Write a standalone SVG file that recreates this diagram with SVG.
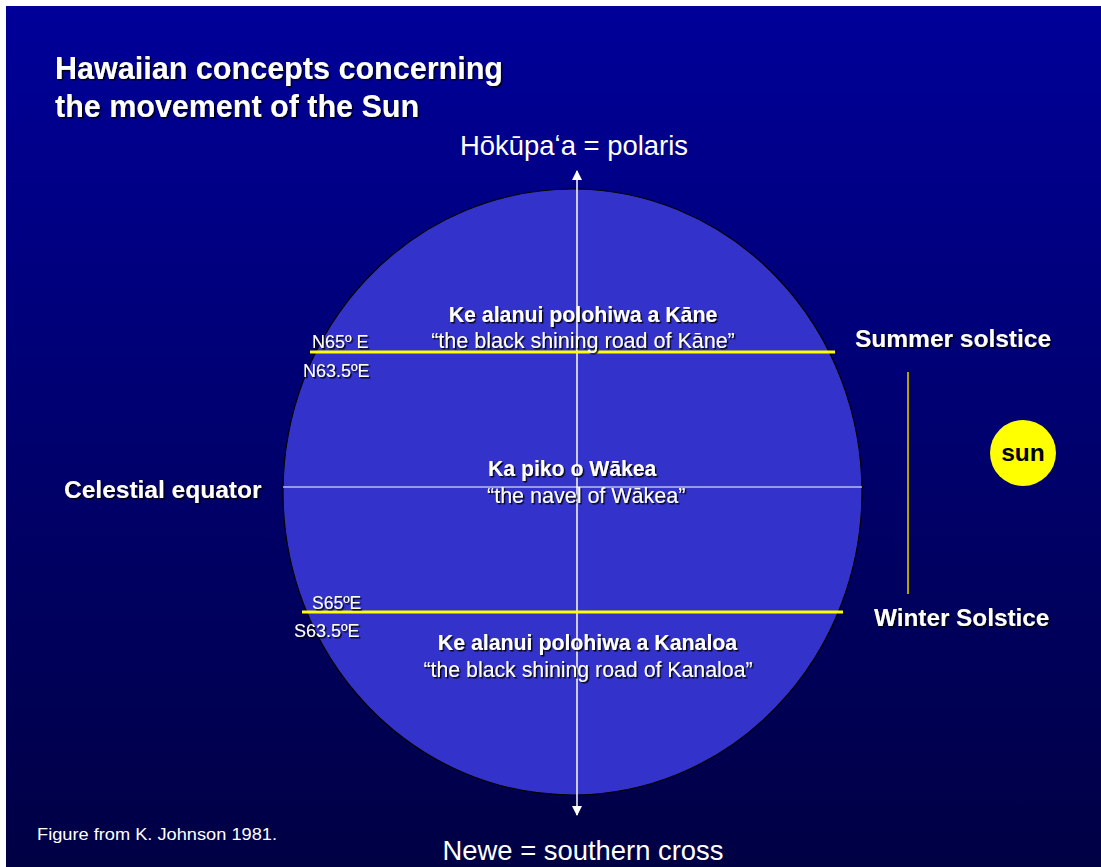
<svg xmlns="http://www.w3.org/2000/svg" width="1101" height="867" viewBox="0 0 1101 867">
<defs>
<linearGradient id="bg" x1="0" y1="0" x2="0" y2="1">
<stop offset="0" stop-color="#000099"/>
<stop offset="1" stop-color="#000044"/>
</linearGradient>
<filter id="sh" x="-5%" y="-20%" width="110%" height="140%">
<feDropShadow dx="1.5" dy="1.5" stdDeviation="0.3" flood-color="#000000" flood-opacity="0.9"/>
</filter>
<marker id="ah" viewBox="0 0 10 10" refX="9" refY="5" markerWidth="11" markerHeight="10" markerUnits="userSpaceOnUse" orient="auto">
<path d="M0,0 L10,5 L0,10 z" fill="#ffffff"/>
</marker>
<style>
text{font-family:"Liberation Sans",Arial,sans-serif;fill:#ffffff}
.b{font-weight:bold}
.s{filter:url(#sh)}
.c{text-anchor:middle}
</style>
</defs>
<rect x="0" y="0" width="1101" height="867" fill="#ffffff"/>
<rect x="6" y="6" width="1095" height="861" fill="url(#bg)"/>

<g id="title" class="s">
<text class="b" x="55" y="79" font-size="32" textLength="448" lengthAdjust="spacingAndGlyphs">Hawaiian concepts concerning</text>
<text class="b" x="55" y="117" font-size="32" textLength="364" lengthAdjust="spacingAndGlyphs">the movement of the Sun</text>
</g>

<g id="sky">
<ellipse cx="572.5" cy="492" rx="289.5" ry="303" fill="#3333cc" stroke="#000000" stroke-width="1.2"/>
</g>

<g id="connectors">
<line x1="283" y1="487" x2="862" y2="487" stroke="#ffffff" stroke-width="1"/>
<line x1="577" y1="492" x2="577" y2="171" stroke="#ffffff" stroke-width="1.5" marker-end="url(#ah)"/>
<line x1="577" y1="492" x2="577" y2="815" stroke="#ffffff" stroke-width="1.5" marker-end="url(#ah)"/>
<line x1="310" y1="352" x2="835" y2="352" stroke="#ffff00" stroke-width="3"/>
<line x1="302" y1="612" x2="843" y2="612" stroke="#ffff00" stroke-width="3"/>
<line x1="908" y1="372" x2="908" y2="594" stroke="#b3a300" stroke-width="2"/>
</g>

<g id="polaris">
<text class="c" x="574" y="155" font-size="28" textLength="228" lengthAdjust="spacingAndGlyphs">Hōkūpaʻa = polaris</text>
</g>
<g id="southern-cross">
<text class="c" x="583" y="860" font-size="28" textLength="281" lengthAdjust="spacingAndGlyphs">Newe = southern cross</text>
</g>

<g id="kane-road" class="s">
<text class="b c" x="583" y="322" font-size="21.3">Ke alanui polohiwa a Kāne</text>
<text class="c" x="583" y="348" font-size="21.5">“the black shining road of Kāne”</text>
<text x="312" y="348" font-size="18">N65º E</text>
<text x="303" y="377" font-size="18">N63.5ºE</text>
</g>

<g id="wakea" class="s">
<text class="b" x="488" y="476" font-size="21.2">Ka piko o Wākea</text>
<text x="487" y="503" font-size="21.5">“the navel of Wākea”</text>
</g>

<g id="kanaloa-road" class="s">
<text x="312" y="609" font-size="17.5">S65ºE</text>
<text x="294" y="637" font-size="18">S63.5ºE</text>
<text class="b c" x="587.5" y="650" font-size="21.3">Ke alanui polohiwa a Kanaloa</text>
<text class="c" x="588" y="677" font-size="21.3">“the black shining road of Kanaloa”</text>
</g>

<g id="equator-label" class="s">
<text class="b" x="64" y="498" font-size="24.5">Celestial equator</text>
</g>
<g id="summer" class="s">
<text class="b" x="855" y="347" font-size="24.5">Summer solstice</text>
</g>
<g id="winter" class="s">
<text class="b" x="874" y="626" font-size="24.3">Winter Solstice</text>
</g>

<g id="sun">
<circle cx="1023" cy="453" r="33" fill="#ffff00"/>
<text class="b c" x="1023" y="461" font-size="24.5" style="fill:#000000">sun</text>
</g>

<g id="credit">
<text x="37" y="840" font-size="17" textLength="240" lengthAdjust="spacingAndGlyphs">Figure from K. Johnson 1981.</text>
</g>
</svg>
